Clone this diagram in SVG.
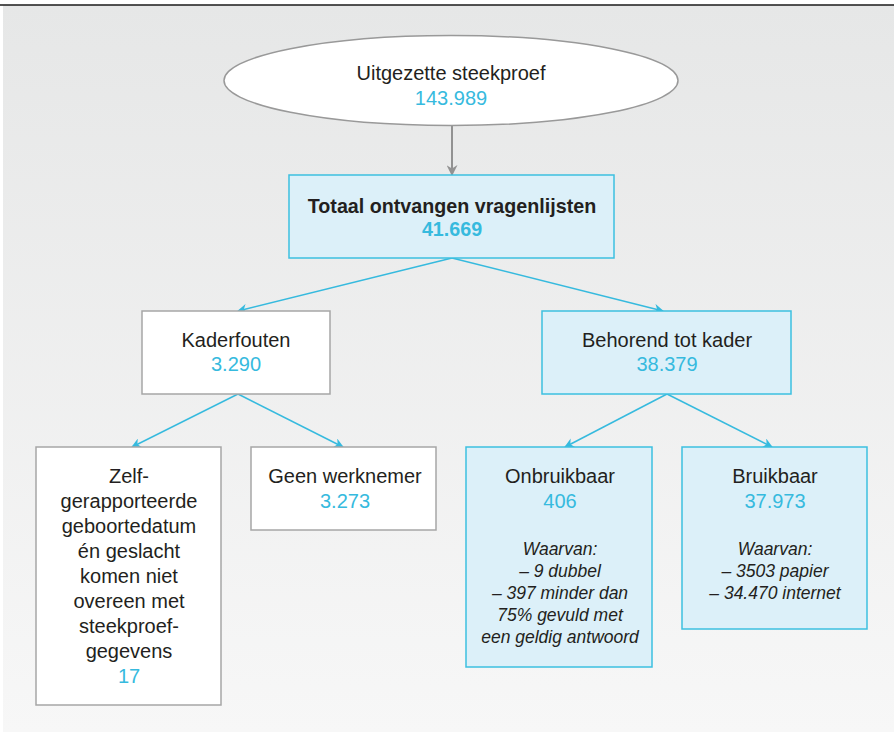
<svg xmlns="http://www.w3.org/2000/svg" width="894" height="732" viewBox="0 0 894 732">
<defs>
<linearGradient id="bg" x1="0" y1="0" x2="0" y2="1">
<stop offset="0" stop-color="#e6e7e7"/>
<stop offset="1" stop-color="#f7f7f7"/>
</linearGradient>
<marker id="ac" viewBox="0 0 10 10" refX="9" refY="5" markerWidth="10" markerHeight="10" markerUnits="userSpaceOnUse" orient="auto">
<path d="M0,0 L10,5 L0,10 L3,5 Z" fill="#36bade"/>
</marker>
<marker id="ag" viewBox="0 0 10 10" refX="9" refY="5" markerWidth="11" markerHeight="11" markerUnits="userSpaceOnUse" orient="auto">
<path d="M0,0 L10,5 L0,10 L3,5 Z" fill="#929292"/>
</marker>
<style>
text{font-family:"Liberation Sans",Arial,sans-serif;font-size:20px;fill:#231f20;text-anchor:middle}
.n{fill:#36bade}
.b{font-weight:bold;font-size:19.7px}
.i{font-style:italic;font-size:17.5px}
.w{fill:#ffffff;stroke:#a6a6a6;stroke-width:1.5}
.c{fill:#dcf0f9;stroke:#3cc0e0;stroke-width:1.5}
.lc{stroke:#36bade;stroke-width:1.5;fill:none;marker-end:url(#ac)}
.lg{stroke:#929292;stroke-width:2;fill:none;marker-end:url(#ag)}
</style>
</defs>
<rect x="3" y="5" width="891" height="727" fill="url(#bg)"/>
<line x1="0" y1="5" x2="894" y2="5" stroke="#1a1a1a" stroke-width="1.5"/>
<g id="connectors">
<line class="lg" x1="452" y1="126" x2="452" y2="175"/>
<line class="lc" x1="452" y1="258" x2="238" y2="311"/>
<line class="lc" x1="452" y1="258" x2="663" y2="311"/>
<line class="lc" x1="238" y1="394" x2="132" y2="447"/>
<line class="lc" x1="238" y1="394" x2="343" y2="447"/>
<line class="lc" x1="667" y1="394" x2="565" y2="447"/>
<line class="lc" x1="667" y1="394" x2="772" y2="447"/>
</g>
<g id="steekproef">
<ellipse cx="451" cy="80.5" rx="227" ry="45" fill="#ffffff" stroke="#999999" stroke-width="1.5"/>
<text x="451" y="80">Uitgezette steekproef</text>
<text class="n" x="451" y="105">143.989</text>
</g>
<g id="totaal">
<rect class="c" x="289" y="175" width="325" height="83"/>
<text class="b" x="452" y="213">Totaal ontvangen vragenlijsten</text>
<text class="n b" x="452" y="236">41.669</text>
</g>
<g id="kaderfouten">
<rect class="w" x="142" y="311" width="188" height="83"/>
<text x="236" y="347">Kaderfouten</text>
<text class="n" x="236" y="371">3.290</text>
</g>
<g id="behorend">
<rect class="c" x="542" y="311" width="249" height="83"/>
<text x="667" y="347">Behorend tot kader</text>
<text class="n" x="667" y="371">38.379</text>
</g>
<g id="zelf">
<rect class="w" x="36" y="447" width="185" height="258"/>
<text x="129" y="483">Zelf-</text>
<text x="129" y="508">gerapporteerde</text>
<text x="129" y="533">geboortedatum</text>
<text x="129" y="558">én geslacht</text>
<text x="129" y="583">komen niet</text>
<text x="129" y="608">overeen met</text>
<text x="129" y="633">steekproef-</text>
<text x="129" y="658">gegevens</text>
<text class="n" x="129" y="683">17</text>
</g>
<g id="geen">
<rect class="w" x="251" y="447" width="185" height="83"/>
<text x="345" y="483">Geen werknemer</text>
<text class="n" x="345" y="508">3.273</text>
</g>
<g id="onbruikbaar">
<rect class="c" x="466" y="447" width="186" height="220"/>
<text x="560" y="483">Onbruikbaar</text>
<text class="n" x="560" y="508">406</text>
<text class="i" x="560" y="555">Waarvan:</text>
<text class="i" x="560" y="577">– 9 dubbel</text>
<text class="i" x="560" y="599">– 397 minder dan</text>
<text class="i" x="560" y="621">75% gevuld met</text>
<text class="i" x="560" y="643">een geldig antwoord</text>
</g>
<g id="bruikbaar">
<rect class="c" x="682" y="447" width="185" height="182"/>
<text x="775" y="483">Bruikbaar</text>
<text class="n" x="775" y="508">37.973</text>
<text class="i" x="775" y="555">Waarvan:</text>
<text class="i" x="775" y="577">– 3503 papier</text>
<text class="i" x="775" y="599">– 34.470 internet</text>
</g>
</svg>
